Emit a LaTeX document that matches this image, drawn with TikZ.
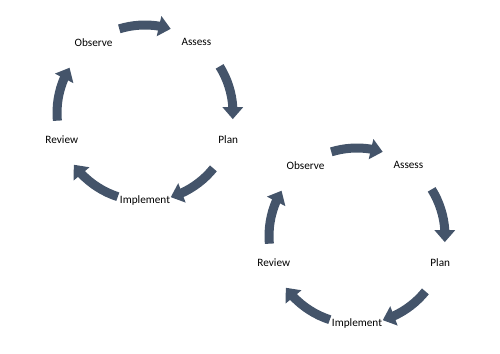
\documentclass[tikz,border=0pt]{standalone}
\usepackage{fontspec}
\setmainfont{Carlito}
\usetikzlibrary{arrows.meta,bending}
\definecolor{slate}{HTML}{44546A}

\begin{document}
\begin{tikzpicture}[
    lbl/.style={font=\fontsize{6.4}{7.7}\selectfont, inner sep=1pt},
    flow/.style={-{Triangle[width=4mm,length=2.4mm]}, line width=1.8mm, draw=slate}]
  \useasboundingbox (0,0) rectangle (10,7.06);
  % first cycle
  \coordinate (c1) at (2.90,4.80);
  \node[lbl] (obs1) at ([shift={(126:1.75)}]c1) {Observe};
  \node[lbl] (ass1) at ([shift={(54:1.75)}]c1) {Assess};
  \node[lbl] (plan1) at ([shift={(-18:1.75)}]c1) {Plan};
  \node[lbl] (imp1) at ([shift={(-90:1.75)}]c1) {Implement};
  \node[lbl] (rev1) at ([shift={(198:1.75)}]c1) {Review};
  \draw[flow] ([shift={(107:1.76)}]c1) arc[start angle=107, end angle=73, radius=1.76];
  \draw[flow] ([shift={(32:1.76)}]c1) arc[start angle=32, end angle=-4, radius=1.76];
  \draw[flow] ([shift={(-39:1.76)}]c1) arc[start angle=-39, end angle=-73, radius=1.76];
  \draw[flow] ([shift={(-108:1.76)}]c1) arc[start angle=-108, end angle=-144, radius=1.76];
  \draw[flow] ([shift={(185:1.76)}]c1) arc[start angle=185, end angle=149, radius=1.76];
  % second cycle
  \coordinate (c2) at (7.14,2.34);
  \node[lbl] (obs2) at ([shift={(126:1.75)}]c2) {Observe};
  \node[lbl] (ass2) at ([shift={(54:1.75)}]c2) {Assess};
  \node[lbl] (plan2) at ([shift={(-18:1.75)}]c2) {Plan};
  \node[lbl] (imp2) at ([shift={(-90:1.75)}]c2) {Implement};
  \node[lbl] (rev2) at ([shift={(198:1.75)}]c2) {Review};
  \draw[flow] ([shift={(107:1.76)}]c2) arc[start angle=107, end angle=73, radius=1.76];
  \draw[flow] ([shift={(32:1.76)}]c2) arc[start angle=32, end angle=-4, radius=1.76];
  \draw[flow] ([shift={(-39:1.76)}]c2) arc[start angle=-39, end angle=-73, radius=1.76];
  \draw[flow] ([shift={(-108:1.76)}]c2) arc[start angle=-108, end angle=-144, radius=1.76];
  \draw[flow] ([shift={(185:1.76)}]c2) arc[start angle=185, end angle=149, radius=1.76];
\end{tikzpicture}
\end{document}
